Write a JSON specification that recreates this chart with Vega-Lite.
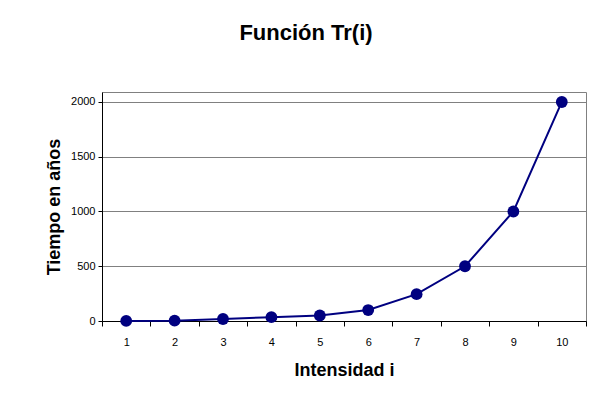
{
  "$schema": "https://vega.github.io/schema/vega-lite/v6.json",
  "autosize": {"type": "none"},
  "padding": {"left": 102, "top": 92, "right": 7, "bottom": 88},
  "width": 484,
  "height": 229,
  "background": "white",
  "title": {
    "text": "Función Tr(i)",
    "font": "Liberation Sans",
    "fontSize": 22,
    "fontWeight": "bold",
    "color": "black",
    "anchor": "middle",
    "dx": -38,
    "offset": 47
  },
  "config": {
    "font": "Liberation Sans",
    "view": {"stroke": "#808080", "strokeWidth": 1}
  },
  "data": {
    "values": [
      {"i": "1", "t": 1},
      {"i": "2", "t": 3},
      {"i": "3", "t": 18},
      {"i": "4", "t": 35},
      {"i": "5", "t": 50},
      {"i": "6", "t": 100},
      {"i": "7", "t": 245},
      {"i": "8", "t": 500},
      {"i": "9", "t": 1000},
      {"i": "10", "t": 2000}
    ]
  },
  "encoding": {
    "x": {
      "field": "i",
      "type": "ordinal",
      "sort": null,
      "scale": {"type": "band", "paddingInner": 0, "paddingOuter": 0},
      "axis": {
        "title": "Intensidad i",
        "titleFont": "Liberation Sans",
        "titleFontSize": 18,
        "titleFontWeight": "bold",
        "titleColor": "black",
        "titlePadding": 14,
        "labelAngle": 0,
        "labelFontSize": 11,
        "labelColor": "black",
        "labelPadding": 10,
        "tickBand": "extent",
        "tickSize": 5,
        "tickColor": "black",
        "domainColor": "black",
        "grid": false
      }
    },
    "y": {
      "field": "t",
      "type": "quantitative",
      "scale": {"domain": [0, 2091], "nice": false},
      "axis": {
        "title": "Tiempo en años",
        "titleFont": "Liberation Sans",
        "titleFontSize": 18,
        "titleFontWeight": "bold",
        "titleColor": "black",
        "titlePadding": 7,
        "values": [0, 500, 1000, 1500, 2000],
        "format": "d",
        "labelFontSize": 11,
        "labelColor": "black",
        "labelPadding": 3,
        "tickSize": 4,
        "tickColor": "black",
        "domainColor": "black",
        "grid": true,
        "gridColor": "#808080",
        "gridWidth": 1
      }
    }
  },
  "layer": [
    {"mark": {"type": "line", "color": "#000080", "strokeWidth": 2}},
    {"mark": {"type": "point", "filled": true, "color": "#000080", "opacity": 1, "size": 140}}
  ]
}
